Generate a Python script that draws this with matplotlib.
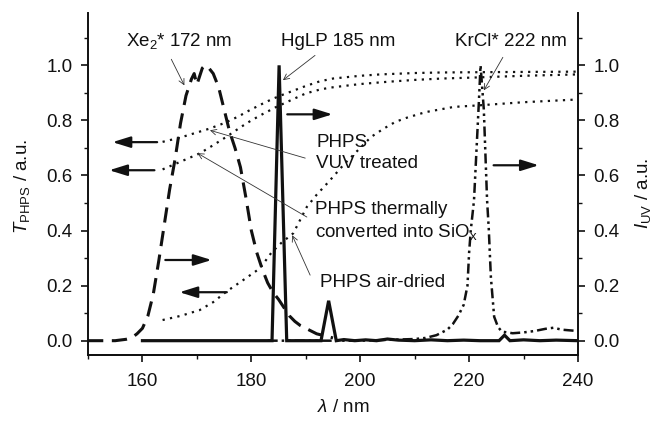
import matplotlib
matplotlib.use("Agg")
import matplotlib.pyplot as plt
from matplotlib.ticker import MultipleLocator, FormatStrFormatter

plt.rcParams['font.family'] = ['Liberation Sans', 'DejaVu Sans']
plt.rcParams['mathtext.fontset'] = 'custom'
plt.rcParams['mathtext.rm'] = 'Liberation Sans'
plt.rcParams['mathtext.it'] = 'Liberation Sans:italic'
plt.rcParams['mathtext.bf'] = 'Liberation Sans:bold'

# ---------------- data ----------------
# Xe2* excimer lamp spectrum (right axis)
xe_wl = [150, 155, 157, 158, 159, 160, 161, 162, 163, 164, 165, 166, 167, 168, 169,
         169.5, 170, 170.5, 171, 171.5, 172, 173, 174, 175, 176, 177, 178, 179, 180,
         181, 182, 183, 184, 185, 186, 187, 188, 189, 190, 191, 192, 193, 194, 195]
xe_int = [0.0, 0.0, 0.005, 0.01, 0.025, 0.045, 0.09, 0.17, 0.29, 0.42, 0.55, 0.66, 0.79, 0.89, 0.95,
          0.97, 0.93, 0.96, 0.99, 1.0, 0.995, 0.97, 0.92, 0.84, 0.76, 0.70, 0.63, 0.52, 0.40,
          0.32, 0.26, 0.21, 0.175, 0.15, 0.12, 0.09, 0.07, 0.055, 0.045, 0.035, 0.025, 0.02, 0.015, 0.01]

# HgLP lamp (right axis)
hg_wl = [160, 170, 180, 183.0, 183.8, 185.1, 186.5, 188, 190, 192.8, 194.2, 195.6, 197, 199,
         201, 203, 205, 207, 210, 213, 216, 219, 222, 225.5, 226.5, 227.5, 230, 233, 236, 240]
hg_int = [0.0, 0.0, 0.0, 0.0, 0.0, 1.0, 0.0, 0.0, 0.0, 0.0, 0.145, 0.0, 0.004, 0.0,
          0.003, 0.0, 0.006, 0.002, 0.0, 0.003, 0.0, 0.002, 0.0, 0.0, 0.02, 0.0, 0.003, 0.0, 0.002, 0.0]

# KrCl* excimer lamp (right axis)
kr_wl = [183, 190, 195, 200, 205, 210, 212, 214, 216, 217, 218, 219, 219.7, 220.0, 220.3,
         220.9, 221.8, 222.1, 222.7, 223.3, 223.6, 224.0, 224.6, 225.3, 226, 228, 230, 232,
         234, 235.5, 237, 240]
kr_int = [0.0, 0.0, 0.0, 0.0, 0.003, 0.006, 0.01, 0.02, 0.04, 0.06, 0.09, 0.13, 0.20, 0.32, 0.40,
          0.51, 0.87, 1.0, 0.84, 0.51, 0.41, 0.23, 0.087, 0.05, 0.033, 0.027, 0.03, 0.035,
          0.043, 0.047, 0.04, 0.035]

# PHPS transmission curves (left axis)
vuv_wl = [163.7, 166, 168, 170, 172.3, 175, 177.5, 179.7, 182, 184, 186, 188, 190, 192.6, 195,
          200, 203.7, 210, 215, 221.5, 230, 240]
vuv_T = [0.722, 0.733, 0.744, 0.756, 0.77, 0.79, 0.813, 0.837, 0.86, 0.879, 0.895, 0.91, 0.925,
         0.942, 0.952, 0.962, 0.967, 0.972, 0.974, 0.975, 0.976, 0.977]

therm_wl = [163.7, 167, 170.5, 173, 175.4, 178, 180, 182, 184.6, 188, 190, 192.6, 194.5, 197,
            200, 204.9, 210, 215, 221.5, 230, 240]
therm_T = [0.622, 0.65, 0.68, 0.71, 0.74, 0.775, 0.80, 0.822, 0.849, 0.88, 0.898, 0.912, 0.919,
           0.925, 0.932, 0.94, 0.947, 0.952, 0.956, 0.962, 0.967]

air_wl = [163.7, 167, 170.5, 173, 175.4, 178.5, 181.6, 183.7, 185.5, 187.7, 190.2, 192, 194.2,
          197, 200, 202, 204.3, 206.5, 208.6, 212, 217.2, 222.1, 230, 240]
air_T = [0.075, 0.09, 0.111, 0.14, 0.178, 0.22, 0.263, 0.32, 0.355, 0.39, 0.486, 0.53, 0.577,
         0.64, 0.70, 0.74, 0.77, 0.795, 0.81, 0.83, 0.849, 0.855, 0.866, 0.876]

x_major = [160, 180, 200, 220, 240]
x_minor = [150, 170, 190, 210, 230]

# ---------------- figure ----------------
fig = plt.figure(figsize=(6.53, 4.24), dpi=100)
ax = fig.add_axes([88/653, 1-355/424, 490/653, 342/424])
ax2 = ax.twinx()

col = '#111111'
fs = 13.5

ax.plot(vuv_wl, vuv_T, color=col, lw=1.6, linestyle=(0, (1, 2.4)))
ax.plot(therm_wl, therm_T, color=col, lw=1.6, linestyle=(0, (1, 2.4)))
ax.plot(air_wl, air_T, color=col, lw=1.6, linestyle=(0, (1, 2.4)))

ax2.plot(xe_wl, xe_int, color=col, lw=2.2, linestyle=(0, (5, 2.8)))
ax2.plot(kr_wl, kr_int, color=col, lw=1.8, linestyle=(0, (4, 1.6, 1, 1.6, 1, 1.6)))
ax2.plot(hg_wl, hg_int, color=col, lw=2.3, solid_joinstyle='miter')

for a in (ax, ax2):
    a.set_xlim(150, 240)
    a.set_ylim(-0.052, 1.19)
    a.spines['top'].set_visible(False)
    for s in ('left', 'right', 'bottom'):
        a.spines[s].set_linewidth(1.4)
        a.spines[s].set_color(col)
    a.yaxis.set_major_locator(MultipleLocator(0.2))
    a.yaxis.set_minor_locator(MultipleLocator(0.1))
    a.yaxis.set_major_formatter(FormatStrFormatter('%.1f'))

ax.set_xticks(x_major)
ax.set_xticks(x_minor, minor=True)
ax.tick_params(axis='both', which='major', direction='out', length=5, width=1.2,
               labelsize=fs, colors=col, pad=6)
ax.tick_params(axis='both', which='minor', direction='out', length=3, width=1.0, colors=col)
ax.tick_params(axis='x', which='major', pad=8)
ax2.tick_params(axis='y', which='major', direction='out', length=5, width=1.2,
                labelsize=fs, colors=col, pad=6)
ax2.tick_params(axis='y', which='minor', direction='out', length=3, width=1.0, colors=col)
ax.spines['right'].set_visible(False)
ax2.spines['left'].set_visible(False)

# axis titles placed in figure pixels of the reference
fig.text(343/653, 1-408/424, r'$\it{\lambda}$ / nm', fontsize=fs, color=col,
         ha='center', va='center')
fig.text(22/653, 1-186/424, r'$\it{T}$$_{\rm PHPS}$ / a.u.', fontsize=fs, color=col,
         ha='center', va='center', rotation=90)
fig.text(643/653, 1-193/424, r'$\it{I}$$_{\rm UV}$ / a.u.', fontsize=fs, color=col,
         ha='center', va='center', rotation=90)

# lamp labels with thin pointers
thin = dict(arrowstyle='->', lw=0.6, color='#333333', shrinkA=0, shrinkB=0)
ax2.text(166.8, 1.087, r'Xe$_2$* 172 nm', fontsize=fs, color=col, ha='center', va='center')
ax2.annotate('', xy=(167.7, 0.927), xytext=(165.3, 1.022), arrowprops=thin)
ax2.text(196.0, 1.087, 'HgLP 185 nm', fontsize=fs, color=col, ha='center', va='center')
ax2.annotate('', xy=(185.8, 0.946), xytext=(191.7, 1.036), arrowprops=thin)
ax2.text(227.6, 1.087, 'KrCl* 222 nm', fontsize=fs, color=col, ha='center', va='center')
ax2.annotate('', xy=(222.7, 0.909), xytext=(226.2, 1.029), arrowprops=thin)

# sample labels
ax2.text(191.9, 0.681, 'PHPS\nVUV treated', fontsize=fs, color=col, ha='left', va='center',
         linespacing=1.3)
ax2.annotate('', xy=(172.4, 0.764), xytext=(189.9, 0.663), arrowprops=thin)
ax2.text(191.7, 0.432, 'PHPS thermally\nconverted into SiO$_{\\rm x}$', fontsize=fs, color=col,
         ha='left', va='center', linespacing=1.3)
ax2.annotate('', xy=(170.1, 0.681), xytext=(190.2, 0.449), arrowprops=thin)
ax2.text(192.6, 0.213, 'PHPS air-dried', fontsize=fs, color=col, ha='left', va='center')
ax2.annotate('', xy=(187.5, 0.383), xytext=(190.8, 0.238), arrowprops=thin)

# axis-assignment arrows
thick = dict(arrowstyle='-|>,head_length=0.9,head_width=0.28', lw=1.6, color=col,
             shrinkA=0, shrinkB=0, mutation_scale=12)
for (x0, x1, yv) in [(162.7, 154.5, 0.721), (162.2, 153.9, 0.619), (186.6, 194.9, 0.822),
                     (164.2, 172.7, 0.293), (175.5, 166.8, 0.176), (224.5, 232.8, 0.637)]:
    ax2.annotate('', xy=(x1, yv), xytext=(x0, yv), arrowprops=thick)

fig.savefig('out.png', dpi=100)
